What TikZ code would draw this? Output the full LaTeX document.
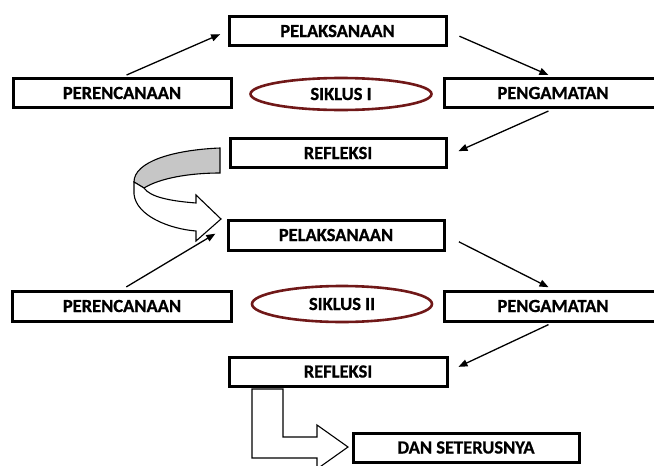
\documentclass[tikz,border=0pt]{standalone}
\usepackage{fontspec}
\setmainfont{Carlito}
\newfontface\boxfont{Carlito Bold}[FakeBold=0.8]
\usetikzlibrary{arrows.meta,shapes.geometric}
\definecolor{ellred}{HTML}{701818}
\tikzset{
  box/.style={draw=black, line width=3pt, fill=white, inner sep=0pt,
    minimum width=#1, minimum height=29pt, font=\fontsize{18.5}{18.5}\boxfont},
  box/.default=217pt,
  cyc/.style={ellipse, draw=ellred, line width=2.6pt, inner sep=0pt,
    font=\fontsize{18.5}{18.5}\boxfont},
  conn/.style={line width=1.3pt, -{Triangle[length=9pt,width=7pt]}},
  blockarrow/.style={draw=black, line width=1.1pt, line join=miter},
}
\begin{document}
\begin{tikzpicture}[x=1pt,y=-1pt]
\path[use as bounding box, clip] (0,0) rectangle (654,466);
\fill[white] (0,0) rectangle (654,466);

% cycle I
\node[box] (pel1) at (337.5,31) {PELAKSANAAN};
\node[box=218pt] (per1) at (122,93) {PERENCANAAN};
\node[cyc, minimum width=181pt, minimum height=32pt] (sik1) at (341,94) {SIKLUS I};
\node[box=218pt] (pen1) at (553,93) {PENGAMATAN};
\node[box=216pt] (ref1) at (338,153) {REFLEKSI};

\draw[conn, shorten <=5pt, shorten >=8pt] (per1.north) -- (pel1.west);
\draw[conn, shorten <=13pt, shorten >=5pt] (pel1.east) -- (pen1.north);
\draw[conn, shorten <=5pt, shorten >=12pt] (pen1.south) -- ([yshift=-3pt]ref1.east);

% curved block arrow between cycles
\draw[blockarrow, fill=gray!45]
  (220,148) .. controls (172,150) and (134,162) .. (134,182)
  -- (144,188) .. controls (160,178) and (190,173) .. (220,173) -- cycle;
\draw[blockarrow, fill=white]
  (134,182) -- (134,194) .. controls (136,216) and (170,229) .. (196,231)
  -- (196,241) -- (221,219) -- (196,195) -- (196,203)
  .. controls (170,201) and (150,197) .. (144,188) -- cycle;

% cycle II
\node[box=216pt, minimum height=30pt] (pel2) at (336,235) {PELAKSANAAN};
\node[box=219pt, minimum height=30pt] (per2) at (122,306) {PERENCANAAN};
\node[cyc, minimum width=180pt, minimum height=36pt] (sik2) at (342,304) {SIKLUS II};
\node[box=218pt, minimum height=30pt] (pen2) at (553,306) {PENGAMATAN};
\node[box=218pt] (ref2) at (338,371.5) {REFLEKSI};
\node[box=226pt] (dan) at (466,447.5) {DAN SETERUSNYA};

\draw[conn, shorten <=5pt, shorten >=13pt] (per2.north) -- ([yshift=8pt]pel2.west);
\draw[conn, shorten <=15pt, shorten >=5pt] (pel2.east) -- (pen2.north);
\draw[conn, shorten <=5pt, shorten >=11pt] (pen2.south) -- (ref2.east);

% L-shaped block arrow to "DAN SETERUSNYA"
\draw[blockarrow, fill=white]
  (252,389) -- (283,389) -- (283,437) -- (317,437) -- (317,425) -- (348,447)
  -- (317,469) -- (317,458) -- (252,458) -- cycle;
\end{tikzpicture}
\end{document}
